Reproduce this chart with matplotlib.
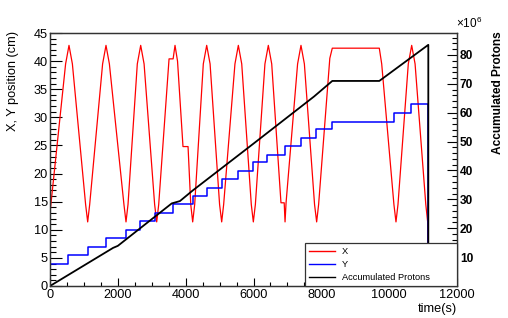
import matplotlib
matplotlib.use("Agg")
import matplotlib.pyplot as plt
from matplotlib.ticker import MultipleLocator

plt.rcParams['font.family'] = ['Liberation Sans', 'DejaVu Sans']
plt.rcParams['mathtext.fontset'] = 'custom'
plt.rcParams['mathtext.rm'] = 'Liberation Sans'

# ---- data ----
x_time = [0, 460, 560, 660, 1050, 1111, 1170,
          1551, 1651, 1751, 2180, 2241, 2300,
          2574, 2674, 2774, 3085, 3146, 3205,
          3510, 3630, 3686, 3760, 3921, 4070, 4150, 4207, 4266,
          4520, 4620, 4720, 5000, 5062, 5120,
          5453, 5553, 5653, 5935, 5995, 6055,
          6337, 6437, 6537, 6810, 6905, 6930, 6960,
          7300, 7400, 7500, 7800, 7862, 7920,
          8250, 8323, 9709, 9780, 10140, 10201, 10260,
          10564, 10664, 10764, 11080, 11135, 11154]
x_pos = [13.0, 39.5, 42.8, 39.5, 14.5, 11.4, 14.5,
         39.5, 42.8, 39.5, 14.5, 11.4, 14.5,
         39.5, 42.8, 39.5, 14.5, 11.4, 14.5,
         40.4, 40.4, 42.8, 40.0, 24.8, 24.8, 14.5, 11.4, 14.5,
         39.5, 42.8, 39.5, 14.5, 11.4, 14.5,
         39.5, 42.8, 39.5, 14.5, 11.4, 14.5,
         39.5, 42.8, 39.5, 14.8, 14.8, 11.4, 14.8,
         39.5, 42.8, 39.5, 14.5, 11.4, 14.5,
         40.5, 42.3, 42.3, 39.5, 14.5, 11.4, 14.5,
         39.5, 42.8, 39.5, 14.5, 11.4, 0.0]

y_time = [0, 540, 1111, 1651, 2241, 2654, 3096, 3630, 4207, 4620, 5062, 5533, 5995,
          6397, 6929, 7400, 7840, 8315, 10140, 10650, 11115, 11154]
y_pos = [4.0, 5.5, 7.0, 8.5, 10.0, 11.5, 13.0, 14.5, 16.0, 17.5, 19.0, 20.4, 22.0,
         23.3, 24.9, 26.4, 27.9, 29.2, 30.8, 32.3, 32.3, 0.0]

p_time = [0, 1860, 2000, 3590, 3830, 4200, 6000, 7784, 8323, 9709, 11154, 11154]
p_acc = [0.0, 13.2, 13.9, 28.6, 29.4, 33.0, 49.3, 65.6, 71.0, 71.0, 83.5, 0.0]  # x10^6

W, H = 508, 318
fig = plt.figure(figsize=(W / 100, H / 100), dpi=100)
L, R, T, B = 50, 457, 33, 286
ax = fig.add_axes([L / W, 1 - B / H, (R - L) / W, (B - T) / H])

ax.plot(x_time, x_pos, color='#ff0000', lw=0.9, label='X')
ax.plot(y_time, y_pos, color='#0000ff', lw=1.1, drawstyle='steps-post', label='Y')
ax.set_xlim(0, 12000)
ax.set_ylim(0, 45)

ax2 = ax.twinx()
ax2.plot(p_time, p_acc, color='black', lw=1.3, label='Accumulated Protons')
ax2.set_ylim(0, 87.6)

fs = 9.2
ax.xaxis.set_major_locator(MultipleLocator(2000))
ax.xaxis.set_minor_locator(MultipleLocator(500))
ax.yaxis.set_major_locator(MultipleLocator(5))
ax.yaxis.set_minor_locator(MultipleLocator(1))
ax.tick_params(axis='x', which='major', direction='in', length=5.5, width=0.8, pad=2, labelsize=fs, top=False)
ax.tick_params(axis='x', which='minor', direction='in', length=2.8, width=0.8, top=False)
ax.tick_params(axis='y', which='major', direction='in', length=8.6, width=0.8, pad=1.5, labelsize=fs, right=False)
ax.tick_params(axis='y', which='minor', direction='in', length=4.3, width=0.8, right=False)

ax2.set_yticks(list(range(10, 90, 10)), [str(v) for v in range(10, 90, 10)], fontweight='bold', fontsize=8.6)
ax2.set_yticks([v for v in range(2, 88, 2) if v % 10 != 0], minor=True)
ax2.tick_params(axis='y', which='major', direction='in', length=7.2, width=0.8, pad=2)
ax2.tick_params(axis='y', which='minor', direction='in', length=3.6, width=0.8)

for a in (ax, ax2):
    for s in a.spines.values():
        s.set_linewidth(0.9)
        s.set_color('#333333')

fig.text(13 / W, 1 - 31 / H, 'X, Y position (cm)', rotation=90, ha='center', va='top', fontsize=9.2)
fig.text(498 / W, 1 - 31 / H, 'Accumulated Protons', rotation=90, ha='center', va='top',
         fontsize=8.6, fontweight='bold')
fig.text(457 / W, 1 - 309 / H, 'time(s)', ha='right', va='center', fontsize=9.2)
fig.text(456 / W, 1 - 23 / H, r'$\times$10$^{6}$', ha='left', va='center', fontsize=8.5)

h1, l1 = ax.get_legend_handles_labels()
h2, l2 = ax2.get_legend_handles_labels()
leg = ax2.legend(h1 + h2, l1 + l2, loc='lower left', bbox_to_anchor=(255 / 407, 0.0, 152 / 407, 0.16),
                 mode='expand', borderaxespad=0, fontsize=6.7, frameon=True, fancybox=False,
                 handlelength=2.8, handletextpad=0.8, labelspacing=0.45,
                 borderpad=0.4, framealpha=1)
leg.get_frame().set_edgecolor('#333333')
leg.get_frame().set_linewidth(0.9)
leg.set_zorder(10)
for line in leg.get_lines():
    line.set_linewidth(1.0)

fig.savefig('out.png', dpi=100)
